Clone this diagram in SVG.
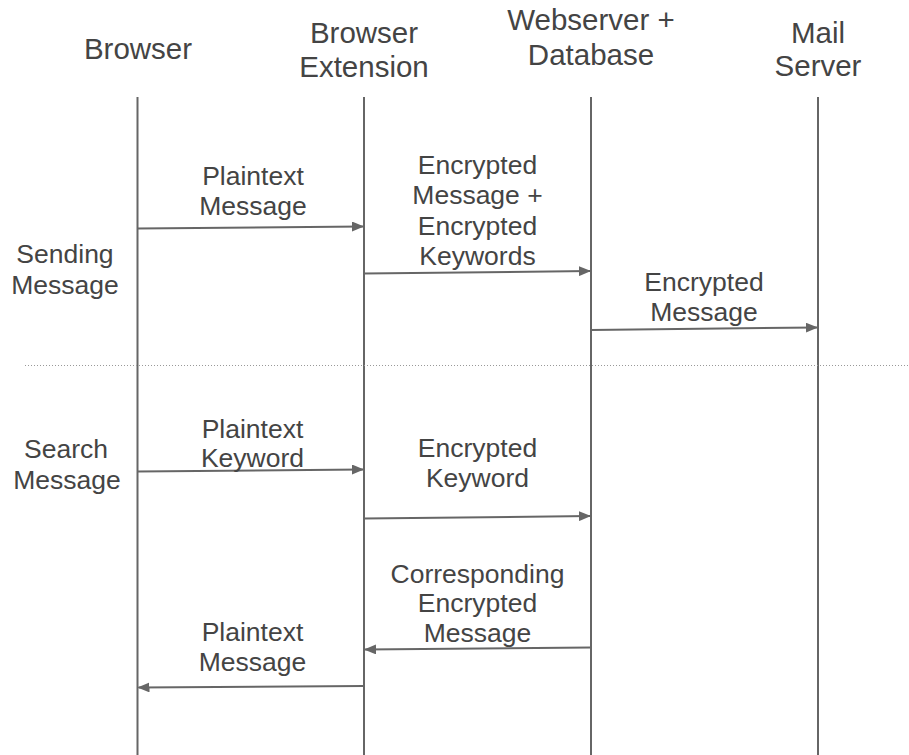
<svg xmlns="http://www.w3.org/2000/svg" width="909" height="755" viewBox="0 0 909 755">
<style>
text{font-family:"Liberation Sans",Arial,sans-serif;fill:#444;text-anchor:middle}
.h{font-size:29.5px}
.l{font-size:26.5px}
.life{stroke:#666;stroke-width:2;fill:none}
.msg{stroke:#666;stroke-width:2;fill:none;marker-end:url(#ah)}
</style>
<defs>
<marker id="ah" viewBox="0 0 12 10" refX="11" refY="5" markerWidth="12" markerHeight="10" markerUnits="userSpaceOnUse" orient="auto">
<path d="M0,0 L12,5 L0,10 Z" fill="#666"/>
</marker>
</defs>
<rect width="909" height="755" fill="#fff"/>
<g id="browser"><text class="h" x="138" y="59">Browser</text><line class="life" x1="137.5" y1="97" x2="137.5" y2="755"/></g>
<g id="extension"><text class="h" x="364" y="43">Browser</text><text class="h" x="364" y="77">Extension</text><line class="life" x1="364" y1="97" x2="364" y2="755"/></g>
<g id="webserver"><text class="h" x="591" y="30">Webserver +</text><text class="h" x="591" y="65">Database</text><line class="life" x1="591" y1="97" x2="591" y2="755"/></g>
<g id="mailserver"><text class="h" x="818" y="43">Mail</text><text class="h" x="818" y="76">Server</text><line class="life" x1="818" y1="97" x2="818" y2="755"/></g>
<g id="phase-labels">
<text class="l" x="65" y="263">Sending</text><text class="l" x="65" y="294">Message</text>
<text class="l" x="66" y="458">Search</text><text class="l" x="67" y="489">Message</text>
</g>
<line x1="25" y1="365.5" x2="909" y2="365.5" stroke="#999" stroke-width="1" stroke-dasharray="1,2"/>
<g id="connectors">
<path class="msg" d="M137.5,228.5 L363,226.5"/>
<path class="msg" d="M364,273.5 L590,271"/>
<path class="msg" d="M591,330 L817,327.5"/>
<path class="msg" d="M137.5,471.5 L363,469.5"/>
<path class="msg" d="M364,518.5 L590,516"/>
<path class="msg" d="M591,647.5 L365,649.5"/>
<path class="msg" d="M364,686 L138.5,687.5"/>
</g>
<g id="labels">
<text class="l" x="253" y="185">Plaintext</text><text class="l" x="253" y="215">Message</text>
<text class="l" x="477.5" y="174">Encrypted</text><text class="l" x="477.5" y="204">Message +</text><text class="l" x="477.5" y="235">Encrypted</text><text class="l" x="477.5" y="265">Keywords</text>
<text class="l" x="704" y="291">Encrypted</text><text class="l" x="704" y="321">Message</text>
<text class="l" x="252.5" y="438">Plaintext</text><text class="l" x="252.5" y="467">Keyword</text>
<text class="l" x="477.5" y="457">Encrypted</text><text class="l" x="477.5" y="487">Keyword</text>
<text class="l" x="477.5" y="583">Corresponding</text><text class="l" x="477.5" y="612">Encrypted</text><text class="l" x="477.5" y="642">Message</text>
<text class="l" x="252.5" y="641">Plaintext</text><text class="l" x="252.5" y="671">Message</text>
</g>
</svg>
